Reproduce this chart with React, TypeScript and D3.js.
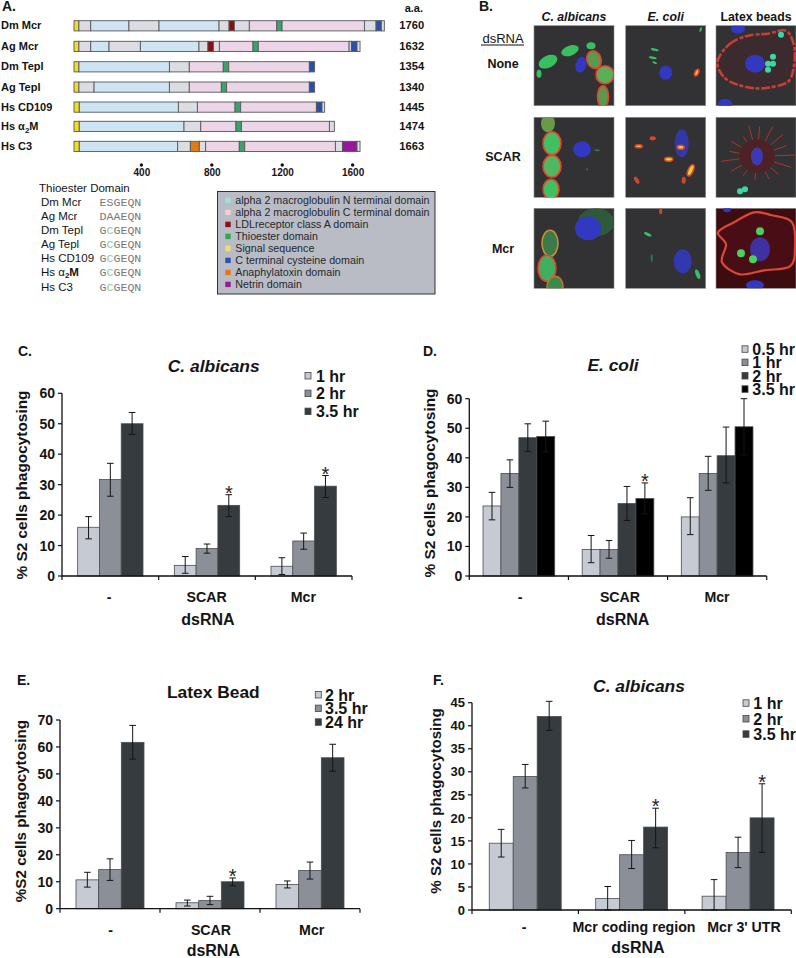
import React from "react";
import * as d3 from "d3";

const FONT = "'Liberation Sans', Arial, sans-serif";

// ---------- Panel A data ----------
const domainColors: Record<string, string> = {
  g: "#dcdde2", N: "#cfe4f3", C: "#ecd5e6", L: "#86100f", T: "#3aa36a",
  S: "#f0dc2a", Y: "#2a4fa8", A: "#e07a1a", R: "#97169a",
};
const proteinNames = ["Dm Mcr", "Ag Mcr", "Dm Tepl", "Ag Tepl", "Hs CD109", "Hs α2M", "Hs C3"];
const proteinLengths = ["1760", "1632", "1354", "1340", "1445", "1474", "1663"];
const proteinTops = [20.7, 41.3, 61.7, 82, 102, 121.3, 141.3];
const dmMcr: [number, string][] = [[28,"S"],[95,"g"],[312,"N"],[483,"g"],[824,"N"],[881,"g"],[911,"L"],[996,"g"],[1152,"C"],[1182,"T"],[1650,"C"],[1716,"g"],[1746,"Y"],[1763,"g"]];
const agMcr: [number, string][] = [[28,"S"],[95,"g"],[199,"N"],[377,"g"],[710,"N"],[761,"g"],[792,"L"],[826,"g"],[1017,"C"],[1047,"T"],[1563,"C"],[1576,"g"],[1608,"Y"],[1625,"g"]];
const dmTepl: [number, string][] = [[28,"S"],[542,"N"],[655,"g"],[848,"C"],[879,"T"],[1337,"C"],[1367,"Y"]];
const agTepl: [number, string][] = [[28,"S"],[114,"g"],[542,"N"],[655,"g"],[837,"C"],[867,"T"],[1337,"C"],[1367,"Y"]];
const hsCd109: [number, string][] = [[30,"S"],[593,"N"],[701,"g"],[915,"C"],[947,"T"],[1377,"C"],[1409,"Y"],[1424,"g"]];
const hsA2m: [number, string][] = [[30,"S"],[625,"N"],[720,"g"],[920,"C"],[951,"T"],[1451,"C"],[1479,"g"]];
const hsC3: [number, string][] = [[30,"S"],[589,"N"],[661,"g"],[712,"A"],[748,"g"],[939,"C"],[970,"T"],[1485,"C"],[1525,"g"],[1608,"R"],[1625,"g"]];
const proteinSegments = [dmMcr, agMcr, dmTepl, agTepl, hsCd109, hsA2m, hsC3];
const aaTicks = [400, 800, 1200, 1600];

const thioNames = ["Dm Mcr", "Ag Mcr", "Dm Tepl", "Ag Tepl", "Hs CD109", "Hs α2M", "Hs C3"];
const thioSeqs = ["ESGEQN", "DAAEQN", "GCGEQN", "GCGEQN", "GCGEQN", "GCGEQN", "GCGEQN"];
const domainLegend: [string, string][] = [
  ["alpha 2 macroglobulin N terminal domain", "#a9dcdc"],
  ["alpha 2 macroglobulin C terminal domain", "#f3d0d6"],
  ["LDLreceptor class A domain", "#8a0f12"],
  ["Thioester domain", "#2ea84f"],
  ["Signal sequence", "#f0dc78"],
  ["C terminal cysteine domain", "#2f4fa8"],
  ["Anaphylatoxin domain", "#e0781a"],
  ["Netrin domain", "#98189a"],
];

// ---------- Panel B data (blobs: x, y, rx, ry, rot, fill, stroke) ----------
type Blob = [number, number, number, number, number, string, string?];
const GR = "#38c060", BL = "#3038c0", RD = "#e8402c", CY = "#38d8a8", YE = "#d8d040";
const micro11: Blob[] = [[14,36,10,6,-25,GR],[36,25,9,5,-20,GR],[57,20,4.5,3.5,0,GR],[5,48,2.5,4,0,GR],[47,39,5.5,8,15,BL],[60,34,7,9,-20,"#5a9a50",RD],[71,49,9,9,0,"#58b058",RD],[69,71,5.5,11,0,"#5a9a50",RD]];
const micro21: Blob[] = [[29,24,4,1.2,15,GR],[27,32,4,1.2,10,GR],[29,37,2.5,1,20,GR],[75,4,1,2.5,20,GR],[40,47,6.5,7,0,BL],[71,47,1.8,3.5,25,YE,RD]];
const micro31: Blob[] = [[39,38,10,9,0,BL],[52,38,3,3,0,CY],[57,31,3,3,0,CY],[57,38,3,3,0,CY],[52,44,3,3,0,CY],[65,9,3,3,0,CY],[22,3,7,5,0,BL],[9,78,7,5,0,BL]];
const micro12: Blob[] = [[14,6,7,9,0,"#6a9a4a"],[18,26,9,11.5,0,"#40c060",RD],[18,49,9,11,0,"#50b860",RD],[17,72,8,10,0,"#40c060",RD],[48,32,9,8,0,BL],[63,33,3,1,0,"#2a7a40"],[53,52,1,1,0,"#2a7a40"]];
const micro22: Blob[] = [[56,26,7,14,0,"#3038a8"],[27,21,3,2,0,RD],[13,29,3.5,1.5,0,YE,RD],[55,30,3.5,2,0,YE,RD],[43,42,4,2,0,YE,RD],[65,53,2.5,6,25,YE,RD],[11,63,2,4,-30,"#c84830"],[58,63,2,3.5,0,"#c84830"]];
const micro32: Blob[] = [[41,39,18,17,0,"#4e2426"],[41,39,6,9,0,"#4038b0"],[24,74,3,3,0,CY],[29,72,3,3,0,CY]];
const micro13: Blob[] = [[62,14,18,14,0,"#2f5a3a"],[54,20,13,12,0,BL],[16,35,8,13,0,"#3a7a4a","#c89038"],[13,60,9,13,0,"#40b060",RD],[21,78,8,10,0,"#3a8a4a","#c87030"]];
const micro23: Blob[] = [[35,3,1.5,3,0,"#c84830"],[22,26,4,1.5,25,GR],[26,50,1,4,0,"#2a7a50"],[57,53,9,12,0,"#3038b0"],[72,66,2,5,-20,GR]];
const micro33: Blob[] = [[44,41,10,12,0,"#3c30a0"],[44,23,4,4,0,"#48d060"],[25,45,4,4,0,"#48d060"],[37,51,4,4,0,"#48d060"],[39,77,9,5,0,BL],[11,1,4,3,0,BL]];
const ring31: [number, number][] = [[2,34],[14,18],[32,10],[52,8],[70,5],[78,20],[78,40],[72,56],[52,62],[34,62],[14,56],[4,46]];
const ring33: [number, number][] = [[2,24],[18,14],[38,4],[56,7],[76,14],[79,40],[74,58],[48,62],[24,66],[6,54],[10,36]];
const spikeAngles = [-170,-150,-125,-105,-85,-62,-40,-20,-2,18,40,62,95,125,150,172];
const spikeLengths = [28,30,24,32,30,34,34,32,38,36,28,26,24,24,30,36];
const microPanels = [micro11, micro21, micro31, micro12, micro22, micro32, micro13, micro23, micro33];
const microBackgrounds = ["#323234","#323234","#323234","#323234","#323234","#323234","#323234","#323234","#3c0c10"];
const microCols = ["C. albicans", "E. coli", "Latex beads"];
const microRows = ["None", "SCAR", "Mcr"];

// ---------- Bar chart data ----------
const cCats = ["-", "SCAR", "Mcr"];
const cSeries = ["1 hr", "2 hr", "3.5 hr"];
const cValues = [[16, 31.7, 50], [3.5, 9, 23.2], [3.2, 11.5, 29.5]];
const cLow = [[12.2, 26.2, 46.5], [0.9, 7.5, 19.5], [0.5, 8.8, 25.8]];
const cHigh = [[19.5, 37, 53.7], [6.4, 10.5, 26.7], [6, 14.1, 33]];
const cStars = [[1, 2], [2, 2]];

const dCats = ["-", "SCAR", "Mcr"];
const dSeries = ["0.5 hr", "1 hr", "2 hr", "3.5 hr"];
const dValues = [[23.7, 34.7, 46.8, 47.2], [9, 9, 24.5, 26.2], [20, 34.7, 40.7, 50.5]];
const dLow = [[19, 30, 42.2, 42], [4.5, 6, 18.8, 21], [14, 29, 31.5, 41]];
const dHigh = [[28.3, 39.3, 51.5, 52.4], [13.7, 12, 30.3, 31.5], [26.5, 40.5, 50.4, 60]];
const dStars = [[1, 3]];

const eCats = ["-", "SCAR", "Mcr"];
const eSeries = ["2 hr", "3.5 hr", "24 hr"];
const eValues = [[10.7, 14.5, 61.7], [2.2, 3, 10], [9, 14.2, 56]];
const eLow = [[8, 10.5, 55.5], [1, 1.5, 8.5], [7.7, 11, 51]];
const eHigh = [[13.5, 18.5, 68], [3.2, 4.6, 11.4], [10.3, 17.3, 61]];
const eStars = [[1, 2]];

const fCats = ["-", "Mcr coding region", "Mcr 3' UTR"];
const fSeries = ["1 hr", "2 hr", "3.5 hr"];
const fValues = [[14.5, 29, 42], [2.5, 12, 18], [3, 12.5, 20]];
const fLow = [[11.5, 26.5, 39], [0, 9, 13.5], [0, 9.2, 12.5]];
const fHigh = [[17.5, 31.6, 45.3], [5.1, 15.1, 22.1], [6.6, 15.8, 27.4]];
const fStars = [[1, 2], [2, 2]];

const barColors3 = ["#c6cad2", "#8b9098", "#353b3f"];
const barColors4 = ["#c6cad2", "#8b9098", "#353b3f", "#000000"];

type ChartProps = {
  letter: string; letterX: number; letterY: number;
  title: string; italic: boolean; titleX: number; titleY: number;
  cats: string[]; series: string[]; values: number[][]; low: number[][]; high: number[][]; stars: number[][];
  colors: string[]; yMax: number; yStep: number; tickSize: number;
  x0: number; x1: number; y0: number; yTop: number; barFrac: number;
  catX: number[]; catY: number; dsX: number; dsY: number;
  ylabel: string; ylabelX: number; ylabelY: number; ylabelSize: number;
  legSq: number; legText: number; legY: number[];
};

function BarChart(p: ChartProps) {
  const x = d3.scaleBand<number>().domain(p.cats.map((_, i) => i)).range([p.x0, p.x1]);
  const y = d3.scaleLinear().domain([0, p.yMax]).range([p.y0, p.yTop]);
  const inner = d3.scaleBand<number>().domain(p.series.map((_, i) => i)).range([0, x.bandwidth() * p.barFrac]);
  const off = (x.bandwidth() * (1 - p.barFrac)) / 2;
  const ticks = d3.range(0, p.yMax + 0.001, p.yStep);
  const bounds = d3.range(0, p.cats.length + 1).map((i) => p.x0 + i * x.bandwidth());
  const bw = inner.bandwidth();
  return (
    <g fontFamily={FONT} fontWeight="bold" fill="#141414">
      <text x={p.letterX} y={p.letterY} fontSize={14} fontWeight="bold">{p.letter}</text>
      <text x={p.titleX} y={p.titleY} fontSize={17.4} textAnchor="middle" fontStyle={p.italic ? "italic" : "normal"}>{p.title}</text>
      {p.values.map((row, g) => row.map((v, s) => {
        const bx = x(g)! + off + inner(s)!;
        const cx = bx + bw / 2;
        return (
          <g key={`${g}-${s}`}>
            <rect x={bx} y={y(v)} width={bw} height={p.y0 - y(v)} fill={p.colors[s]} stroke="#4a4d50" strokeWidth={0.8} />
            <path d={`M${cx - 3.3},${y(p.high[g][s])}H${cx + 3.3}M${cx},${y(p.high[g][s])}V${y(p.low[g][s])}M${cx - 3.3},${y(p.low[g][s])}H${cx + 3.3}`} stroke="#151515" strokeWidth={1} fill="none" />
          </g>
        );
      }))}
      {p.stars.map(([g, s]) => (
        <text key={`st${g}`} x={x(g)! + off + inner(s)! + bw / 2} y={y(p.high[g][s]) + 5} fontSize={20} fontWeight="normal" textAnchor="middle" fill="#222">*</text>
      ))}
      <path d={`M${p.x0},${p.yTop}V${p.y0}H${p.x1}`} stroke="#111" strokeWidth={1.3} fill="none" />
      {ticks.map((t) => (
        <g key={t}>
          <line x1={p.x0 - 4} x2={p.x0} y1={y(t)} y2={y(t)} stroke="#111" strokeWidth={1.2} />
          <text x={p.x0 - 7} y={y(t) + p.tickSize * 0.36} fontSize={p.tickSize} textAnchor="end">{t}</text>
        </g>
      ))}
      {bounds.map((b) => <line key={b} x1={b} x2={b} y1={p.y0} y2={p.y0 + 4} stroke="#111" strokeWidth={1.2} />)}
      {p.cats.map((c, i) => <text key={c} x={p.catX[i]} y={p.catY} fontSize={14.2} textAnchor="middle">{c}</text>)}
      <text x={p.dsX} y={p.dsY} fontSize={16} textAnchor="middle">dsRNA</text>
      <text transform={`translate(${p.ylabelX},${p.ylabelY}) rotate(-90)`} fontSize={p.ylabelSize} textAnchor="middle">{p.ylabel}</text>
      {p.series.map((s, i) => (
        <g key={s}>
          <rect x={p.legSq - 3} y={p.legY[i] - 9.2} width={6} height={6.5} fill={p.colors[i]} stroke="#444" strokeWidth={0.8} />
          <text x={p.legText} y={p.legY[i]} fontSize={16}>{s}</text>
        </g>
      ))}
    </g>
  );
}

function PanelA() {
  const px = d3.scaleLinear().domain([0, 1760]).range([74, 383.8]);
  return (
    <g fontFamily={FONT} fill="#141414">
      <text x={2} y={11} fontSize={14} fontWeight="bold">A.</text>
      <text x={404.7} y={12.3} fontSize={11} fontWeight="bold">a.a.</text>
      {proteinNames.map((name, i) => {
        const segs = proteinSegments[i];
        const parts = name.split("2");
        return (
          <g key={name}>
            <text x={1} y={proteinTops[i] + 8.7} fontSize={11} fontWeight="bold">
              {parts.length > 1 ? <>{parts[0]}<tspan fontSize={8} dy={2.5}>2</tspan><tspan dy={-2.5}>{parts[1]}</tspan></> : name}
            </text>
            <text x={399.3} y={proteinTops[i] + 8.7} fontSize={11.2} fontWeight="bold">{proteinLengths[i]}</text>
            {segs.map(([end, k], j) => {
              const start = j === 0 ? 0 : segs[j - 1][0];
              return <rect key={j} x={px(start)} y={proteinTops[i]} width={px(end) - px(start)} height={10.2} fill={domainColors[k]} stroke="#55585c" strokeWidth={0.9} />;
            })}
          </g>
        );
      })}
      {aaTicks.map((t) => (
        <g key={t}>
          <circle cx={px(t) - 3} cy={165} r={1.7} fill="#111" />
          <text x={px(t) - 2.5} y={175.7} fontSize={10} fontWeight="bold" textAnchor="middle">{t}</text>
        </g>
      ))}
      <text x={39} y={191.7} fontSize={11.5}>Thioester Domain</text>
      {thioNames.map((name, i) => {
        const yy = 205.7 + i * 14.15;
        const parts = name.split("2");
        return (
          <g key={i}>
            <text x={41} y={yy} fontSize={11.5}>
              {parts.length > 1 ? <>{parts[0]}<tspan fontSize={8} dy={2} fontWeight="bold">2</tspan><tspan dy={-2} fontWeight="bold">{parts[1]}</tspan></> : name}
            </text>
            <text x={99.5} y={yy} fontSize={11.6} fontFamily="'Liberation Mono', monospace" fill="#777">
              {thioSeqs[i].split("").map((ch, k) => (
                <tspan key={k} fill={k === 1 && ch === "C" ? "#8ec79a" : "#777"}>{ch}</tspan>
              ))}
            </text>
          </g>
        );
      })}
      <rect x={217.5} y={191.5} width={217.5} height={102.5} fill="#b9bcc5" stroke="#333" strokeWidth={1} />
      {domainLegend.map(([t, c], i) => (
        <g key={t}>
          <rect x={225.3} y={197.7 + i * 12} width={5.4} height={5.4} fill={c} />
          <text x={235.3} y={204 + i * 12} fontSize={10.7} fill="#26282c">{t}</text>
        </g>
      ))}
    </g>
  );
}

function PanelB() {
  const cols = [534, 625.7, 716];
  const rows = [25.7, 117.3, 208.3];
  const ring = d3.line().curve(d3.curveCardinalClosed);
  return (
    <g fontFamily={FONT} fontWeight="bold" fill="#141414">
      <text x={479} y={11} fontSize={14}>B.</text>
      {microCols.map((c, i) => (
        <text key={c} x={cols[i] + 40} y={21} fontSize={12.3} textAnchor="middle" fontStyle={i === 2 ? "normal" : "italic"}>{c}</text>
      ))}
      <text x={503} y={43} fontSize={13} fontWeight="normal" textAnchor="middle">dsRNA</text>
      <line x1={481} x2={524} y1={45} y2={45} stroke="#111" strokeWidth={1} />
      {microRows.map((r, i) => <text key={r} x={503} y={[68, 161, 253][i]} fontSize={12.5} textAnchor="middle">{r}</text>)}
      <defs>
        <filter id="soft" x="-10%" y="-10%" width="120%" height="120%"><feGaussianBlur stdDeviation="0.55" /></filter>
        {cols.flatMap((cx, c) => rows.map((ry, r) => (
          <clipPath id={`mc${c}${r}`} key={`${c}${r}`}><rect x={0} y={0} width={80} height={80} /></clipPath>
        )))}
      </defs>
      {microPanels.map((blobs, idx) => {
        const c = idx % 3, r = Math.floor(idx / 3);
        return (
          <g key={idx} transform={`translate(${cols[c]},${rows[r]})`}>
            <rect width={80} height={80} fill={microBackgrounds[idx]} stroke="#8e8e8e" strokeWidth={0.6} />
            <g clipPath={`url(#mc${c}${r})`}>
              <g filter="url(#soft)">
                {idx === 2 && <path d={ring(ring31)!} fill="#3a2c2e" stroke="#c83c34" strokeWidth={2.6} strokeDasharray="9 2 4 1.5" />}
                {idx === 8 && <path d={ring(ring33)!} fill="#4a1014" stroke="#d84838" strokeWidth={2.2} />}
                {idx === 5 && spikeAngles.map((a, k) => {
                  const rad = (a * Math.PI) / 180;
                  return <line key={k} x1={41} y1={39} x2={41 + spikeLengths[k] * Math.cos(rad)} y2={39 + spikeLengths[k] * Math.sin(rad)} stroke="#b83430" strokeWidth={0.9} />;
                })}
                {blobs.map(([x, y, rx, ry, rot, f, s], k) => (
                  <ellipse key={k} cx={x} cy={y} rx={rx} ry={ry} transform={`rotate(${rot} ${x} ${y})`} fill={f} stroke={s ?? "none"} strokeWidth={s ? 1.6 : 0} />
                ))}
              </g>
            </g>
          </g>
        );
      })}
    </g>
  );
}

export default function App() {
  return (
    <svg width={796} height={958} viewBox="0 0 796 958" style={{ position: "absolute", left: 0, top: 0, display: "block", background: "#fff" }}>
      <PanelA />
      <PanelB />
      <BarChart letter="C." letterX={18} letterY={356} title="C. albicans" italic titleX={213.7} titleY={371.7}
        cats={cCats} series={cSeries} values={cValues} low={cLow} high={cHigh} stars={cStars} colors={barColors3}
        yMax={60} yStep={10} tickSize={14} x0={62} x1={352} y0={576} yTop={393.3} barFrac={0.676}
        catX={[109, 206.7, 303.3]} catY={601.7} dsX={208} dsY={625}
        ylabel="% S2 cells phagocytosing" ylabelX={27} ylabelY={485} ylabelSize={15.4}
        legSq={308} legText={316} legY={[381.7, 399.3, 417.3]} />
      <BarChart letter="D." letterX={423} letterY={356} title="E. coli" italic titleX={613} titleY={370.7}
        cats={dCats} series={dSeries} values={dValues} low={dLow} high={dHigh} stars={dStars} colors={barColors4}
        yMax={60} yStep={10} tickSize={14} x0={469.3} x1={766.7} y0={576} yTop={398.7} barFrac={0.723}
        catX={[520, 620, 717]} catY={601.7} dsX={622.7} dsY={625}
        ylabel="% S2 cells phagocytosing" ylabelX={435} ylabelY={483} ylabelSize={15.4}
        legSq={745} legText={752.3} legY={[355, 368.3, 381.7, 395]} />
      <BarChart letter="E." letterX={17} letterY={685} title="Latex Bead" italic={false} titleX={213.3} titleY={698}
        cats={eCats} series={eSeries} values={eValues} low={eLow} high={eHigh} stars={eStars} colors={barColors3}
        yMax={70} yStep={10} tickSize={14} x0={60} x1={360} y0={908.7} yTop={720} barFrac={0.68}
        catX={[110.7, 211, 311.7]} catY={934.7} dsX={213.3} dsY={956}
        ylabel="%S2 cells phagocytosing" ylabelX={26} ylabelY={811} ylabelSize={15.2}
        legSq={318.3} legText={325} legY={[700.7, 714.3, 728]} />
      <BarChart letter="F." letterX={433} letterY={685} title="C. albicans" italic titleX={639} titleY={691.7}
        cats={fCats} series={fSeries} values={fValues} low={fLow} high={fHigh} stars={fStars} colors={barColors3}
        yMax={45} yStep={5} tickSize={13} x0={472} x1={791.3} y0={910} yTop={702.7} barFrac={0.676}
        catX={[524, 634, 744]} catY={931.7} dsX={638} dsY={952.7}
        ylabel="% S2 cells phagocytosing" ylabelX={441} ylabelY={801} ylabelSize={15.1}
        legSq={746} legText={753.3} legY={[709, 724.7, 740]} />
    </svg>
  );
}
